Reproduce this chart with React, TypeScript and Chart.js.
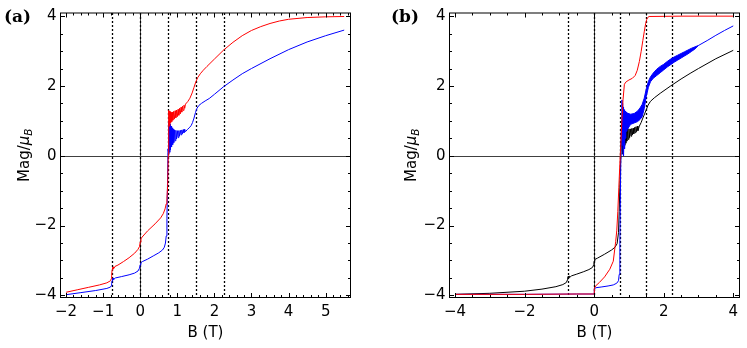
import React, { useEffect, useRef } from 'react';
import { Chart, registerables } from 'chart.js';
Chart.register(...registerables);

const FONT = 'DejaVu Sans';
const Y_TICKS = [-4, -2, 0, 2, 4];
const A_X_TICKS = [-2, -1, 0, 1, 2, 3, 4, 5];
const B_X_TICKS = [-4, -2, 0, 2, 4];
const GUIDES = [-0.75, 0, 0.75, 1.5, 2.25];

// ---------- panel (a) ----------
const A_RED_X = [-2.0, -1.7, -1.4, -1.1, -0.9, -0.8, -0.78, -0.77, -0.76, -0.75, -0.74, -0.73, -0.72, -0.71, -0.7, -0.68, -0.6, -0.45, -0.3, -0.15, -0.06, -0.02, 0.0, 0.02, 0.05, 0.2, 0.4, 0.55, 0.62, 0.67, 0.7, 0.72, 0.74, 0.755, 0.765,
  0.77, 0.78, 0.79, 0.8, 0.81, 0.82, 0.835, 0.85, 0.865, 0.88, 0.9, 0.92, 0.94, 0.96, 0.98, 1.0, 1.02, 1.04, 1.06, 1.08, 1.1, 1.12, 1.14, 1.16, 1.18, 1.2, 1.22,
  1.28, 1.34, 1.4, 1.45, 1.5, 1.55, 1.62, 1.7, 1.8, 2.0, 2.25, 2.5, 2.75, 3.0, 3.25, 3.5, 3.75, 4.0, 4.5, 5.0, 5.5];
const A_RED_Y = [-3.91, -3.84, -3.77, -3.7, -3.64, -3.58, -3.52, -3.42, -3.28, -3.2, -3.26, -3.19, -3.24, -3.18, -3.21, -3.17, -3.13, -3.03, -2.92, -2.79, -2.68, -2.6, -2.47, -2.38, -2.33, -2.15, -1.95, -1.78, -1.66, -1.52, -1.38, -1.22, -0.85, 0.0, 0.9,
  1.3, 0.85, 1.28, 0.9, 1.26, 0.95, 1.24, 0.98, 1.25, 1.02, 1.27, 1.05, 1.29, 1.09, 1.31, 1.12, 1.33, 1.16, 1.36, 1.2, 1.39, 1.25, 1.42, 1.3, 1.45, 1.36, 1.48,
  1.55, 1.65, 1.8, 1.96, 2.12, 2.24, 2.35, 2.45, 2.56, 2.77, 3.03, 3.25, 3.44, 3.59, 3.7, 3.79, 3.86, 3.91, 3.96, 3.98, 3.99];

const A_BLUE_X = [-2.0, -1.6, -1.2, -0.9, -0.8, -0.78, -0.77, -0.76, -0.75, -0.74, -0.73, -0.72, -0.71, -0.7, -0.67, -0.5, -0.3, -0.15, -0.06, -0.02, 0.0, 0.02, 0.06, 0.2, 0.35, 0.5, 0.6, 0.65, 0.68, 0.7, 0.72, 0.735, 0.75, 0.76,
  0.765, 0.775, 0.785, 0.795, 0.805, 0.815, 0.83, 0.845, 0.86, 0.875, 0.89, 0.905, 0.92, 0.94, 0.96, 0.98, 1.0, 1.02, 1.04, 1.06, 1.08, 1.1, 1.12, 1.14, 1.16, 1.18, 1.2, 1.22,
  1.27, 1.32, 1.37, 1.41, 1.45, 1.49, 1.53, 1.58, 1.65, 1.75, 1.86, 2.0, 2.25, 2.5, 2.75, 3.0, 3.5, 4.0, 4.5, 5.0, 5.5];
const A_BLUE_Y = [-3.98, -3.92, -3.86, -3.8, -3.76, -3.72, -3.65, -3.58, -3.52, -3.57, -3.51, -3.55, -3.5, -3.53, -3.5, -3.46, -3.41, -3.36, -3.3, -3.22, -3.12, -3.06, -3.03, -2.96, -2.87, -2.78, -2.7, -2.62, -2.5, -2.3, -1.8, -0.8, 0.2, 0.8,
  0.98, 0.05, 0.95, 0.1, 0.9, 0.18, 0.85, 0.25, 0.8, 0.32, 0.76, 0.38, 0.74, 0.43, 0.73, 0.48, 0.72, 0.52, 0.72, 0.56, 0.73, 0.6, 0.74, 0.63, 0.75, 0.66, 0.76, 0.69,
  0.75, 0.8, 0.86, 0.95, 1.08, 1.24, 1.36, 1.44, 1.5, 1.57, 1.64, 1.76, 1.98, 2.17, 2.35, 2.5, 2.78, 3.04, 3.26, 3.44, 3.6];

// ---------- panel (b) ----------
const B_RED_X = [-4.0, -2.0, -0.5, 0.0, 0.005, 0.05, 0.15, 0.3, 0.45, 0.55, 0.62, 0.65, 0.68, 0.71, 0.75, 0.79, 0.83, 0.87, 0.92, 1.0, 1.1, 1.18, 1.24, 1.3, 1.35, 1.4, 1.44, 1.48, 1.51, 1.54, 1.58, 2.5, 4.0];
const B_RED_Y = [-3.97, -3.97, -3.96, -3.96, -3.8, -3.72, -3.63, -3.47, -3.25, -3.02, -2.45, -2.15, -1.6, -0.9, 0.0, 0.85, 1.6, 2.05, 2.12, 2.17, 2.22, 2.3, 2.45, 2.7, 2.98, 3.3, 3.55, 3.78, 3.9, 3.96, 3.99, 4.0, 4.0];

// blue (b): low field, jump and first spikes
const B_BLUE_X = [-4.0, -2.0, -0.5, 0.0, 0.005, 0.05, 0.2, 0.4, 0.55, 0.65, 0.7, 0.72, 0.74, 0.76, 0.78, 0.8,
  0.81, 0.82, 0.83, 0.84, 0.85, 0.86, 0.875, 0.89, 0.905, 0.92, 0.935, 0.95, 0.965, 0.98];
const B_BLUE_Y = [-3.97, -3.97, -3.96, -3.96, -3.82, -3.78, -3.76, -3.73, -3.7, -3.65, -3.58, -3.4, -2.5, -0.6, 0.8, 1.6,
  0.3, 1.5, 0.05, 1.4, 0.0, 1.32, 0.2, 1.28, 0.5, 1.25, 0.7, 1.22, 0.78, 1.21];
// blue (b): dense oscillation band, upper and lower edges
const B_BLUE_UP_X = [0.95, 1.05, 1.15, 1.25, 1.32, 1.38, 1.44, 1.5, 1.56, 1.62, 1.7, 1.8, 1.9, 2.0, 2.1, 2.2, 2.3, 2.4, 2.5, 2.6, 2.7, 2.8, 2.9, 3.0];
const B_BLUE_UP_Y = [1.22, 1.19, 1.21, 1.28, 1.37, 1.47, 1.65, 1.92, 2.13, 2.26, 2.37, 2.48, 2.56, 2.62, 2.7, 2.77, 2.83, 2.88, 2.93, 2.98, 3.03, 3.08, 3.12, 3.16];
const B_BLUE_LO_X = [0.95, 1.05, 1.15, 1.25, 1.32, 1.38, 1.44, 1.5, 1.56, 1.62, 1.7, 1.8, 1.9, 2.0, 2.1, 2.2, 2.3, 2.4, 2.5, 2.6, 2.7, 2.8, 2.9, 3.0];
const B_BLUE_LO_Y = [0.75, 0.9, 0.94, 0.98, 1.04, 1.12, 1.35, 1.7, 1.96, 2.12, 2.22, 2.3, 2.38, 2.46, 2.54, 2.61, 2.68, 2.74, 2.8, 2.86, 2.92, 2.99, 3.06, 3.16];
// blue (b): high field tail
const B_BLUE_TAIL_X = [3.0, 3.25, 3.5, 3.75, 4.0];
const B_BLUE_TAIL_Y = [3.16, 3.3, 3.45, 3.59, 3.72];

const B_BLACK_X = [-4.0, -3.0, -2.0, -1.5, -1.1, -0.9, -0.8, -0.77, -0.76, -0.75, -0.74, -0.73, -0.72, -0.71, -0.69, -0.65, -0.5, -0.3, -0.15, -0.05, -0.01, 0.0, 0.02, 0.1, 0.3, 0.5, 0.6, 0.66, 0.7, 0.72, 0.75, 0.78, 0.8,
  0.81, 0.82, 0.83, 0.84, 0.85, 0.865, 0.88, 0.895, 0.91, 0.925, 0.94, 0.96, 0.98, 1.0, 1.02, 1.04, 1.06, 1.08, 1.1, 1.12, 1.14, 1.16, 1.18, 1.2, 1.22, 1.24, 1.26,
  1.3, 1.35, 1.4, 1.45, 1.5, 1.55, 1.62, 1.73, 1.9, 2.2, 2.5, 2.76, 3.0, 3.5, 4.0];
const B_BLACK_Y = [-3.97, -3.94, -3.88, -3.82, -3.75, -3.69, -3.63, -3.56, -3.5, -3.46, -3.5, -3.45, -3.49, -3.45, -3.47, -3.44, -3.39, -3.32, -3.26, -3.2, -3.12, -3.02, -2.97, -2.93, -2.82, -2.7, -2.62, -2.52, -2.2, -1.6, -0.5, 0.4, 1.0,
  0.05, 0.95, 0.1, 0.9, 0.2, 0.86, 0.3, 0.83, 0.36, 0.8, 0.42, 0.78, 0.47, 0.77, 0.52, 0.77, 0.56, 0.78, 0.6, 0.79, 0.63, 0.81, 0.66, 0.83, 0.69, 0.85, 0.72,
  0.85, 0.95, 1.08, 1.2, 1.32, 1.45, 1.56, 1.66, 1.79, 2.0, 2.2, 2.36, 2.5, 2.78, 3.02];

const pts = (xs: number[], ys: number[]) => xs.map((x, i) => ({ x, y: ys[i] }));
const fmt = (v: number) => (v < 0 ? '\u2212' + Math.abs(v) : String(v));

const deco = {
  id: 'deco',
  beforeDatasetsDraw(chart: any, _a: any, o: any) {
    const { ctx, chartArea: a } = chart;
    const x = chart.scales.x;
    const y = chart.scales.y;
    ctx.save();
    ctx.beginPath();
    ctx.rect(a.left, a.top, a.right - a.left, a.bottom - a.top);
    ctx.clip();
    ctx.lineWidth = 1;
    ctx.strokeStyle = '#404040';
    const py0 = Math.round(y.getPixelForValue(0)) + 0.5;
    ctx.beginPath(); ctx.moveTo(a.left, py0); ctx.lineTo(a.right, py0); ctx.stroke();
    const px0 = Math.round(x.getPixelForValue(0)) + 0.5;
    ctx.beginPath(); ctx.moveTo(px0, a.top); ctx.lineTo(px0, a.bottom); ctx.stroke();
    ctx.strokeStyle = '#000';
    ctx.lineWidth = 1.3;
    ctx.setLineDash([2, 2]);
    for (const g of o.guides) {
      const px = Math.round(x.getPixelForValue(g)) + 0.5;
      ctx.beginPath(); ctx.moveTo(px, a.top); ctx.lineTo(px, a.bottom); ctx.stroke();
    }
    ctx.restore();
  },
  afterDatasetsDraw(chart: any, _a: any, o: any) {
    const { ctx, chartArea: a } = chart;
    const x = chart.scales.x;
    const y = chart.scales.y;
    ctx.save();
    ctx.strokeStyle = '#000';
    ctx.lineWidth = 1;
    const vtick = (v: number, len: number) => {
      const px = Math.round(x.getPixelForValue(v)) + 0.5;
      if (px < a.left || px > a.right) return;
      ctx.beginPath();
      ctx.moveTo(px, a.bottom); ctx.lineTo(px, a.bottom - len);
      ctx.moveTo(px, a.top); ctx.lineTo(px, a.top + len);
      ctx.stroke();
    };
    const htick = (v: number, len: number) => {
      const py = Math.round(y.getPixelForValue(v)) + 0.5;
      if (py < a.top || py > a.bottom) return;
      ctx.beginPath();
      ctx.moveTo(a.left, py); ctx.lineTo(a.left + len, py);
      ctx.moveTo(a.right, py); ctx.lineTo(a.right - len, py);
      ctx.stroke();
    };
    for (let v = x.min - (x.min % o.xMinor); v <= x.max; v += o.xMinor) vtick(Math.round(v * 1000) / 1000, 2.5);
    for (let v = y.min - (y.min % o.yMinor); v <= y.max; v += o.yMinor) htick(Math.round(v * 1000) / 1000, 2.5);
    for (const v of o.xTicks) vtick(v, 4.5);
    for (const v of Y_TICKS) htick(v, 4.5);
    ctx.strokeRect(a.left, a.top, a.right - a.left, a.bottom - a.top);
    ctx.restore();
  },
  afterDraw(chart: any, _a: any, o: any) {
    const { ctx, chartArea: a } = chart;
    ctx.save();
    ctx.fillStyle = '#000';
    ctx.translate(o.yTitleX, (a.top + a.bottom) / 2);
    ctx.rotate(-Math.PI / 2);
    const f1 = `15px "${FONT}"`;
    const f2 = `italic 15px "${FONT}"`;
    const f3 = `italic 10.5px "${FONT}"`;
    ctx.font = f1; const w1 = ctx.measureText('Mag/').width;
    ctx.font = f2; const w2 = ctx.measureText('\u03bc').width;
    ctx.font = f3; const w3 = ctx.measureText('B').width;
    const s = -(w1 + w2 + w3) / 2;
    ctx.textBaseline = 'alphabetic';
    ctx.textAlign = 'left';
    ctx.font = f1; ctx.fillText('Mag/', s, 5.5);
    ctx.font = f2; ctx.fillText('\u03bc', s + w1, 5.5);
    ctx.font = f3; ctx.fillText('B', s + w1 + w2, 9);
    ctx.restore();
    ctx.save();
    ctx.fillStyle = '#000';
    ctx.font = 'bold 17px "DejaVu Serif"';
    ctx.textBaseline = 'middle';
    ctx.textAlign = 'left';
    ctx.fillText(o.label, o.labelX, 17.5);
    ctx.restore();
  },
};

type Series = { data: { x: number; y: number }[]; color: string; fill?: any };
type PanelCfg = {
  left: number; w: number; yw: number; padRight: number;
  xmin: number; xmax: number; xTicks: number[]; xMinor: number;
  label: string; labelX: number; yTitleX: number;
  series: Series[];
};

const PANELS: PanelCfg[] = [
  {
    left: 0, w: 375, yw: 60.5, padRight: 24.5, xmin: -2.15, xmax: 5.67, xTicks: A_X_TICKS, xMinor: 0.2,
    label: '(a)', labelX: 4, yTitleX: 23,
    series: [
      { data: pts(A_RED_X, A_RED_Y), color: '#ff0000' },
      { data: pts(A_BLUE_X, A_BLUE_Y), color: '#0000ff' },
    ],
  },
  {
    left: 375, w: 372, yw: 74.5, padRight: 7.5, xmin: -4.16, xmax: 4.18, xTicks: B_X_TICKS, xMinor: 0.5,
    label: '(b)', labelX: 16, yTitleX: 35,
    series: [
      { data: pts(B_RED_X, B_RED_Y), color: '#ff0000' },
      { data: pts(B_BLUE_X, B_BLUE_Y), color: '#0000ff' },
      { data: pts(B_BLUE_UP_X, B_BLUE_UP_Y), color: '#0000ff', fill: '+1' },
      { data: pts(B_BLUE_LO_X, B_BLUE_LO_Y), color: '#0000ff' },
      { data: pts(B_BLUE_TAIL_X, B_BLUE_TAIL_Y), color: '#0000ff' },
      { data: pts(B_BLACK_X, B_BLACK_Y), color: '#000000' },
    ],
  },
];

function Panel({ cfg }: { cfg: PanelCfg }) {
  const ref = useRef<HTMLCanvasElement>(null);
  useEffect(() => {
    const xt = cfg.xTicks;
    const chart = new Chart(ref.current as HTMLCanvasElement, {
      type: 'scatter',
      data: {
        datasets: cfg.series.map((s) => ({
          data: s.data, showLine: true, borderColor: s.color, backgroundColor: s.color,
          borderWidth: 1, pointRadius: 0, fill: s.fill ?? false, tension: 0,
        })),
      },
      plugins: [deco],
      options: {
        animation: false, responsive: false, maintainAspectRatio: false,
        events: [],
        layout: { padding: { left: 0, top: 8.5, right: cfg.padRight, bottom: 0 } },
        plugins: {
          legend: { display: false }, tooltip: { enabled: false },
          filler: { propagate: false },
          deco: { guides: GUIDES, xTicks: xt, xMinor: cfg.xMinor, yMinor: 0.5, label: cfg.label, labelX: cfg.labelX, yTitleX: cfg.yTitleX },
        } as any,
        scales: {
          x: {
            type: 'linear', min: cfg.xmin, max: cfg.xmax,
            afterBuildTicks: (s: any) => { s.ticks = xt.map((v) => ({ value: v })); },
            afterFit: (s: any) => { s.height = 50.5; },
            grid: { display: false, drawTicks: false }, border: { display: false },
            ticks: { color: '#000', font: { family: FONT, size: 15 }, padding: 6, maxRotation: 0, autoSkip: false, callback: (v: any) => fmt(Number(v)) },
            title: { display: true, text: 'B (T)', color: '#000', font: { family: FONT, size: 15 }, padding: { top: 0, bottom: 6 } },
          },
          y: {
            type: 'linear', min: -4.06, max: 4.09,
            afterBuildTicks: (s: any) => { s.ticks = Y_TICKS.map((v) => ({ value: v })); },
            afterFit: (s: any) => { s.width = cfg.yw; },
            grid: { display: false, drawTicks: false }, border: { display: false },
            ticks: { color: '#000', font: { family: FONT, size: 15 }, padding: 4, autoSkip: false, callback: (v: any) => fmt(Number(v)) },
          },
        },
      } as any,
    });
    return () => chart.destroy();
  }, []);
  return (
    <canvas ref={ref} width={cfg.w} height={348}
      style={{ position: 'absolute', left: cfg.left, top: 0, width: cfg.w, height: 348 }} />
  );
}

export default function App() {
  return (
    <div style={{ position: 'absolute', left: 0, top: 0, width: 747, height: 348, background: '#fff' }}>
      {PANELS.map((p) => <Panel key={p.label} cfg={p} />)}
    </div>
  );
}
